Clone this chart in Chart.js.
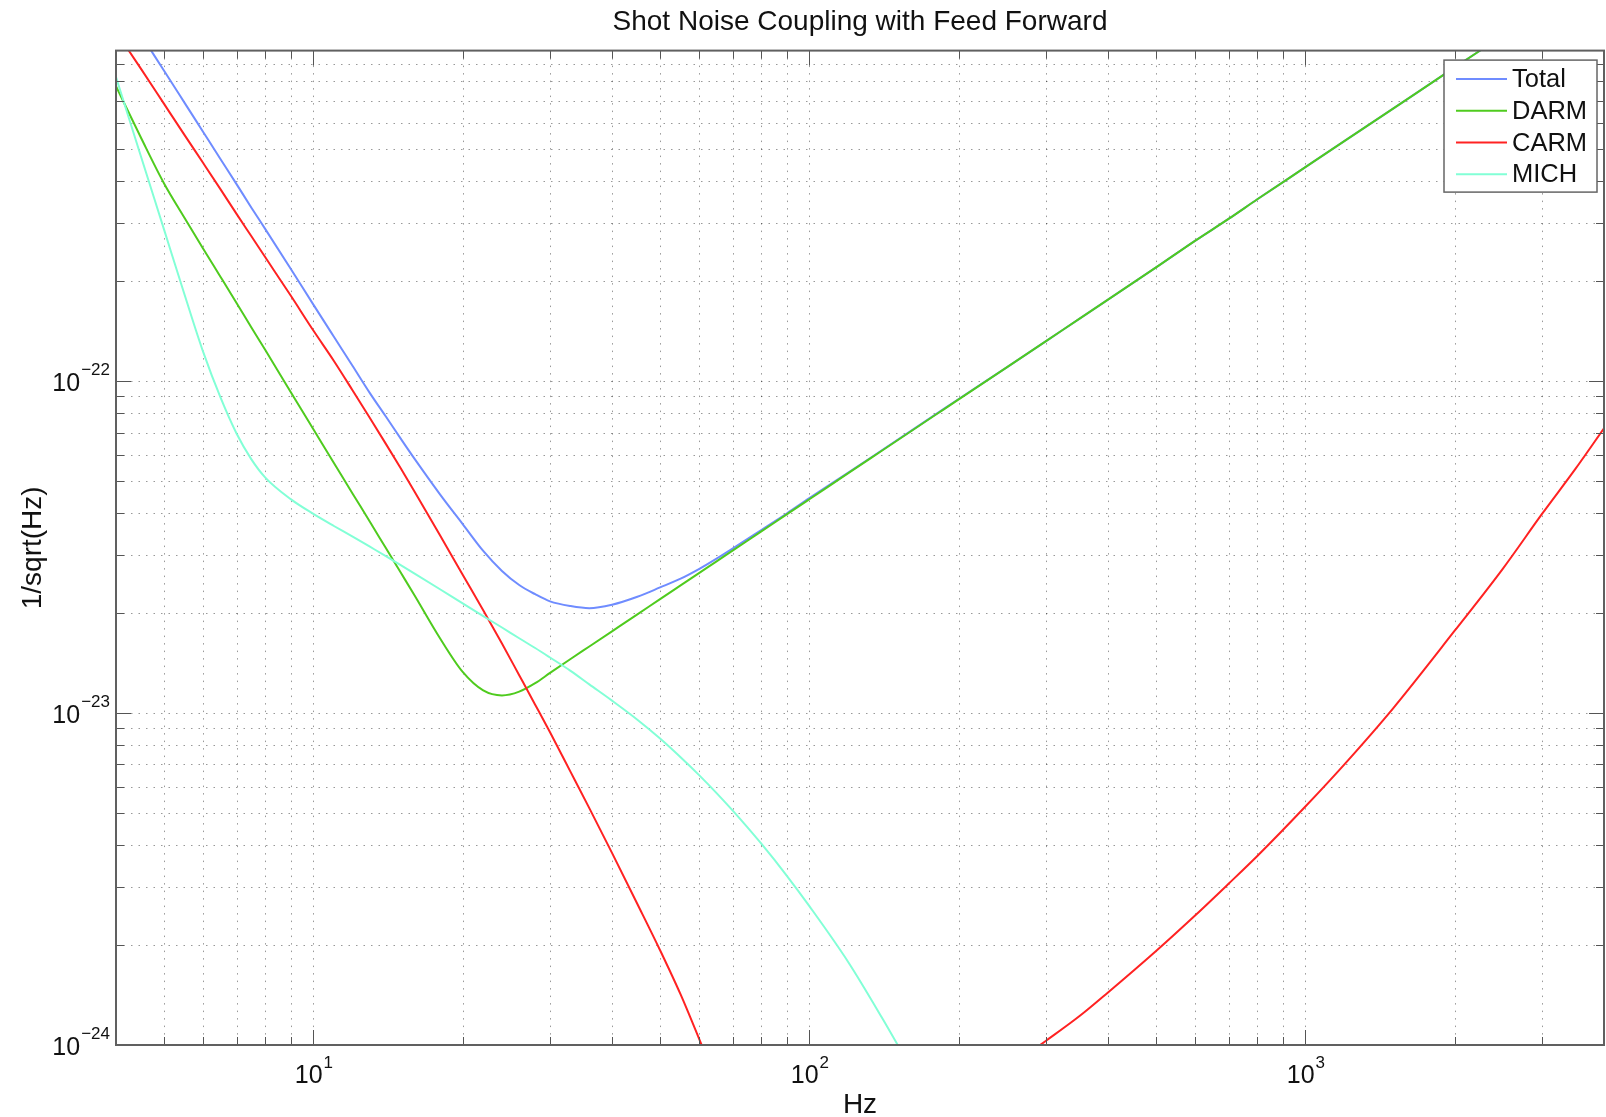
<!DOCTYPE html>
<html>
<head>
<meta charset="utf-8">
<title>Shot Noise Coupling with Feed Forward</title>
<script src="https://cdn.jsdelivr.net/npm/chart.js@4/dist/chart.umd.min.js"></script>
<style>
  html, body { margin: 0; padding: 0; background: #fff; }
  canvas { display: block; }
</style>
</head>
<body>
<canvas id="noiseChart" width="1606" height="1117"></canvas>
<script>
const freqs = [4, 4.5, 5, 5.5, 6, 6.5, 7, 7.5, 8, 9, 10, 11, 12, 13, 14, 15, 16, 18, 20, 22, 24, 26, 28, 30,
    33, 36, 40, 45, 50, 55, 60, 65, 70, 80, 90, 100, 120, 140, 160, 180, 200, 250, 300, 350, 400,
    500, 600, 700, 800, 1000, 1200, 1500, 2000, 2500, 3000, 3500, 4000];

// noise in 1/sqrt(Hz); null = below the plotted range
const totalNoise = [1.45e-21, 1.10e-21, 8.61e-22, 6.89e-22, 5.62e-22, 4.66e-22, 3.92e-22, 3.33e-22, 2.87e-22,
    2.18e-22, 1.70e-22, 1.36e-22, 1.11e-22, 9.20e-23, 7.82e-23, 6.71e-23, 5.83e-23,
    4.56e-23, 3.71e-23, 3.08e-23, 2.68e-23, 2.43e-23, 2.28e-23, 2.17e-23,
    2.10e-23, 2.07e-23, 2.12e-23, 2.24e-23, 2.39e-23, 2.54e-23, 2.72e-23, 2.92e-23, 3.13e-23,
    3.56e-23, 3.99e-23, 4.44e-23, 5.31e-23, 6.19e-23, 7.07e-23, 7.95e-23, 8.83e-23,
    1.10e-22, 1.32e-22, 1.54e-22, 1.76e-22, 2.20e-22, 2.65e-22, 3.08e-22, 3.53e-22,
    4.41e-22, 5.29e-22, 6.61e-22, 8.81e-22, 1.10e-21, 1.32e-21, 1.54e-21, 1.76e-21];

const darmNoise = [7.73e-22, 5.38e-22, 3.94e-22, 3.10e-22, 2.50e-22, 2.06e-22, 1.72e-22, 1.45e-22, 1.24e-22,
    9.27e-23, 7.16e-23, 5.67e-23, 4.58e-23, 3.77e-23, 3.14e-23, 2.65e-23, 2.26e-23,
    1.68e-23, 1.33e-23, 1.17e-23, 1.13e-23, 1.16e-23, 1.23e-23, 1.321e-23,
    1.455e-23, 1.587e-23, 1.763e-23, 1.983e-23, 2.204e-23, 2.424e-23, 2.644e-23, 2.865e-23, 3.085e-23,
    3.526e-23, 3.966e-23, 4.407e-23, 5.29e-23, 6.17e-23, 7.05e-23, 7.93e-23, 8.81e-23,
    1.10e-22, 1.32e-22, 1.54e-22, 1.76e-22, 2.20e-22, 2.65e-22, 3.08e-22, 3.53e-22,
    4.41e-22, 5.29e-22, 6.61e-22, 8.81e-22, 1.10e-21, 1.32e-21, 1.54e-21, 1.76e-21];

const carmNoise = [1.13e-21, 8.69e-22, 6.84e-22, 5.51e-22, 4.53e-22, 3.78e-22, 3.19e-22, 2.73e-22, 2.36e-22,
    1.81e-22, 1.42e-22, 1.15e-22, 9.37e-23, 7.74e-23, 6.47e-23, 5.46e-23, 4.64e-23,
    3.43e-23, 2.61e-23, 2.04e-23, 1.62e-23, 1.30e-23, 1.06e-23, 8.75e-24,
    6.65e-24, 5.17e-24, 3.79e-24, 2.66e-24, 1.93e-24, 1.42e-24, 1.04e-24, 7.76e-25, null,
    null, null, null, null, null, null, null, null,
    8.49e-25, 1.03e-24, 1.22e-24, 1.44e-24, 1.92e-24, 2.46e-24, 3.06e-24, 3.71e-24,
    5.23e-24, 7.02e-24, 1.03e-23, 1.77e-23, 2.72e-23, 3.98e-23, 5.43e-23, 7.21e-23];

const michNoise = [8.24e-22, 4.71e-22, 2.86e-22, 1.82e-22, 1.22e-22, 8.91e-23, 6.95e-23, 5.81e-23, 5.12e-23,
    4.41e-23, 3.98e-23, 3.66e-23, 3.40e-23, 3.17e-23, 2.97e-23, 2.79e-23, 2.63e-23,
    2.36e-23, 2.14e-23, 1.96e-23, 1.81e-23, 1.68e-23, 1.57e-23, 1.47e-23,
    1.34e-23, 1.22e-23, 1.09e-23, 9.55e-24, 8.38e-24, 7.36e-24, 6.49e-24, 5.74e-24, 5.09e-24,
    4.04e-24, 3.24e-24, 2.62e-24, 1.77e-24, 1.21e-24, 8.55e-25, null, null,
    null, null, null, null, null, null, null, null,
    null, null, null, null, null, null, null, null];

const seriesNames = ['Total', 'DARM', 'CARM', 'MICH'];
const seriesColors = ['#6f8cff', '#4fcb1e', '#ff2222', '#82ffd6'];

// decade tick labels (10^n)
const xTickExponents = [1, 2, 3];
const yTickExponents = [-24, -23, -22];

const FONT = '"Liberation Sans", Arial, Helvetica, sans-serif';

function logTicks(min, max) {
    const out = [];
    for (let e = Math.floor(Math.log10(min)); e <= Math.ceil(Math.log10(max)); e++) {
        for (let m = 1; m < 10; m++) {
            const v = m * Math.pow(10, e);
            if (v > min * 1.0001 && v < max * 0.9999) out.push({ v, major: m === 1 });
        }
    }
    return out;
}

function powerLabel(ctx, base, exp, x, y, align) {
    const expText = exp < 0 ? '\u2212' + Math.abs(exp) : String(exp);
    ctx.font = '25px ' + FONT;
    const wBase = ctx.measureText(base).width;
    ctx.font = '17px ' + FONT;
    const wExp = ctx.measureText(expText).width;
    let left = x;
    if (align === 'center') left = x - (wBase + wExp) / 2;
    if (align === 'right') left = x - (wBase + wExp);
    ctx.textAlign = 'left';
    ctx.textBaseline = 'alphabetic';
    ctx.font = '25px ' + FONT;
    ctx.fillText(base, left, y);
    ctx.font = '17px ' + FONT;
    ctx.fillText(expText, left + wBase + 1, y - 15.5);
}

const matlabAxes = {
    id: 'matlabAxes',
    beforeDatasetsDraw(chart) {
        const { ctx, chartArea: a, scales: { x, y } } = chart;
        ctx.save();
        ctx.strokeStyle = 'rgba(0, 0, 0, 0.4)';
        ctx.lineWidth = 1;
        ctx.setLineDash([1.5, 6]);
        logTicks(x.min, x.max).forEach((t) => {
            const px = Math.round(x.getPixelForValue(t.v)) + 0.5;
            ctx.beginPath();
            ctx.moveTo(px, a.top);
            ctx.lineTo(px, a.bottom);
            ctx.stroke();
        });
        logTicks(y.min, y.max).forEach((t) => {
            const py = Math.round(y.getPixelForValue(t.v)) + 0.5;
            ctx.beginPath();
            ctx.moveTo(a.left, py);
            ctx.lineTo(a.right, py);
            ctx.stroke();
        });
        ctx.restore();
    },
    afterDatasetsDraw(chart) {
        const { ctx, chartArea: a, scales: { x, y } } = chart;
        ctx.save();

        // inside tick marks on all four sides
        ctx.strokeStyle = '#555';
        ctx.lineWidth = 1;
        logTicks(x.min, x.max).forEach((t) => {
            const px = Math.round(x.getPixelForValue(t.v)) + 0.5;
            const len = t.major ? 15 : 8;
            ctx.beginPath();
            ctx.moveTo(px, a.bottom);
            ctx.lineTo(px, a.bottom - len);
            ctx.moveTo(px, a.top);
            ctx.lineTo(px, a.top + len);
            ctx.stroke();
        });
        logTicks(y.min, y.max).forEach((t) => {
            const py = Math.round(y.getPixelForValue(t.v)) + 0.5;
            const len = t.major ? 15 : 8;
            ctx.beginPath();
            ctx.moveTo(a.left, py);
            ctx.lineTo(a.left + len, py);
            ctx.moveTo(a.right, py);
            ctx.lineTo(a.right - len, py);
            ctx.stroke();
        });

        // axes box
        ctx.strokeStyle = '#606060';
        ctx.lineWidth = 2;
        ctx.strokeRect(a.left, a.top, a.right - a.left, a.bottom - a.top);

        // tick labels
        ctx.fillStyle = '#111';
        xTickExponents.forEach((e) => {
            powerLabel(ctx, '10', e, x.getPixelForValue(Math.pow(10, e)), a.bottom + 38, 'center');
        });
        yTickExponents.forEach((e) => {
            powerLabel(ctx, '10', e, a.left - 7, y.getPixelForValue(Math.pow(10, e)) + 9.5, 'right');
        });

        // axis titles
        ctx.font = '28px ' + FONT;
        ctx.textAlign = 'center';
        ctx.textBaseline = 'alphabetic';
        ctx.fillText('Hz', (a.left + a.right) / 2, a.bottom + 68);
        ctx.save();
        ctx.translate(33, (a.top + a.bottom) / 2);
        ctx.rotate(-Math.PI / 2);
        ctx.textBaseline = 'middle';
        ctx.fillText('1/sqrt(Hz)', 0, 0);
        ctx.restore();

        // legend box, top right inside the axes
        const boxW = 153;
        const boxH = 132;
        const bx = a.right - 7 - boxW;
        const by = a.top + 9.5;
        ctx.fillStyle = '#fff';
        ctx.fillRect(bx, by, boxW, boxH);
        ctx.strokeStyle = '#666';
        ctx.lineWidth = 1.5;
        ctx.strokeRect(bx, by, boxW, boxH);
        ctx.font = '25.5px ' + FONT;
        ctx.textAlign = 'left';
        ctx.textBaseline = 'middle';
        chart.data.datasets.forEach((ds, i) => {
            const ry = by + 19 + i * 31.7;
            ctx.strokeStyle = ds.borderColor;
            ctx.lineWidth = 2;
            ctx.beginPath();
            ctx.moveTo(bx + 12, ry);
            ctx.lineTo(bx + 63, ry);
            ctx.stroke();
            ctx.fillStyle = '#111';
            ctx.fillText(ds.label, bx + 68, ry + 1);
        });

        ctx.restore();
    },
};

const seriesValues = [totalNoise, darmNoise, carmNoise, michNoise];

new Chart(document.getElementById('noiseChart'), {
    type: 'line',
    data: {
        datasets: seriesNames.map((name, i) => ({
            label: name,
            data: freqs.map((f, k) => ({ x: f, y: seriesValues[i][k] })),
            borderColor: seriesColors[i],
            borderWidth: 2,
            pointRadius: 0,
            cubicInterpolationMode: 'monotone',
            spanGaps: false,
            clip: 0,
            order: seriesNames.length - i,
        })),
    },
    options: {
        responsive: false,
        animation: false,
        events: [],
        layout: {
            padding: { top: 0, left: 116, right: 2, bottom: 72 },
        },
        scales: {
            x: { type: 'logarithmic', min: 4, max: 4000, display: false },
            y: { type: 'logarithmic', min: 1e-24, max: 9.9e-22, display: false },
        },
        plugins: {
            legend: { display: false },
            tooltip: { enabled: false },
            title: {
                display: true,
                text: 'Shot Noise Coupling with Feed Forward',
                color: '#111',
                font: { family: FONT, size: 28, weight: 'normal' },
                padding: { top: 5, bottom: 12 },
            },
        },
    },
    plugins: [matlabAxes],
});
</script>
</body>
</html>
